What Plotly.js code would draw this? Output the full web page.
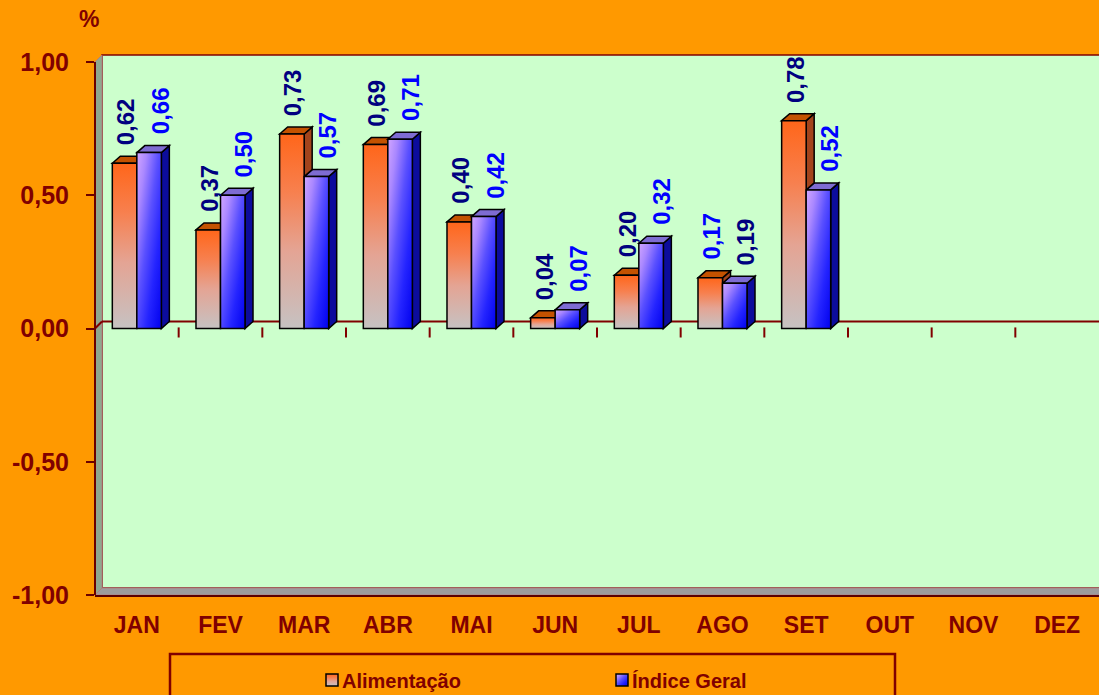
<!DOCTYPE html>
<html>
<head>
<meta charset="utf-8">
<script src="https://cdn.plot.ly/plotly-3.0.1.min.js"></script>
<style>
html,body{margin:0;padding:0;background:#FF9900;overflow:hidden;}
#chart{width:1099px;height:695px;}
</style>
</head>
<body>
<svg width="0" height="0" style="position:absolute;left:0;top:0">
  <defs>
    <linearGradient id="gradAlim" x1="0" y1="0" x2="0" y2="1">
      <stop offset="0" stop-color="#FF661A"/>
      <stop offset="0.3" stop-color="#F7804F"/>
      <stop offset="0.6" stop-color="#E4A494"/>
      <stop offset="1" stop-color="#C6C2C2"/>
    </linearGradient>
    <linearGradient id="gradIndice" x1="0" y1="0" x2="1" y2="1">
      <stop offset="0" stop-color="#D2A6FF"/>
      <stop offset="0.2" stop-color="#AA88FF"/>
      <stop offset="0.45" stop-color="#5A50FF"/>
      <stop offset="0.7" stop-color="#2424FF"/>
      <stop offset="1" stop-color="#0000EE"/>
    </linearGradient>
  </defs>
</svg>
<div id="chart"></div>
<script>
// ---------- data ----------
const months = ['JAN','FEV','MAR','ABR','MAI','JUN','JUL','AGO','SET','OUT','NOV','DEZ'];
const alimentacao = [0.62, 0.37, 0.73, 0.69, 0.40, 0.04, 0.20, 0.19, 0.78, null, null, null];
const indiceGeral = [0.66, 0.50, 0.57, 0.71, 0.42, 0.07, 0.32, 0.17, 0.52, null, null, null];
const seriesNames = ['Alimentação', 'Índice Geral'];
const yTickVals = [-1, -0.5, 0, 0.5, 1];
const yTickText = ['-1,00', '-0,50', '0,00', '0,50', '1,00'];
const unitLabel = '%';

// ---------- geometry / style ----------
const W = 1099, H = 695;
const ML = 95, MR = 0, MT = 54, MB = 100;
const plotW = W - ML - MR, plotH = H - MT - MB;
const kx = plotW / months.length;      // px per category
const ky = 533 / 2;                    // px per y unit
const yMax = -1 + plotH / ky;
const wallDX = 7 / kx, wallDY = 7 / ky;
const barDX = 8 / kx, barDY = 7 / ky;
const bargap = 0.414;
const bw = (1 - bargap) / 2;

const DARKRED = '#800000';
const FONT = 'Liberation Sans, Arial, sans-serif';
const fmt = v => v.toFixed(2).replace('.', ',');
const poly = pts => 'M' + pts.map(p => p[0] + ',' + p[1]).join('L') + 'Z';

const X0 = -0.5, X1 = months.length - 0.5;
const shapes = [];
// back wall
shapes.push({type:'rect', xref:'x', yref:'y', x0:X0 + wallDX, x1:X1 + wallDX, y0:-1 + wallDY, y1:1 + wallDY,
  fillcolor:'#CCFFCC', line:{color:DARKRED, width:1.5}, layer:'below'});
// left wall
shapes.push({type:'path', xref:'x', yref:'y', layer:'below',
  path: poly([[X0,-1],[X0 + wallDX,-1 + wallDY],[X0 + wallDX,1 + wallDY],[X0,1]]),
  fillcolor:'#8FA88F', line:{color:'#B08080', width:1}});
// floor
shapes.push({type:'path', xref:'x', yref:'y', layer:'below',
  path: poly([[X0,-1],[X1,-1],[X1 + wallDX,-1 + wallDY],[X0 + wallDX,-1 + wallDY]]),
  fillcolor:'#9C9C9C', line:{color:'#B08080', width:1}});
// zero line on back wall + diagonal on side wall
shapes.push({type:'line', xref:'x', yref:'y', layer:'below', x0:X0 + wallDX, x1:X1 + wallDX, y0:wallDY, y1:wallDY,
  line:{color:DARKRED, width:2}});
shapes.push({type:'line', xref:'x', yref:'y', layer:'below', x0:X0, x1:X0 + wallDX, y0:0, y1:wallDY,
  line:{color:DARKRED, width:2}});
// category boundary ticks at the zero level
for (let i = 1; i < months.length; i++) {
  shapes.push({type:'line', xref:'x', yref:'y', layer:'below', x0:i - 0.5, x1:i - 0.5, y0:0.004, y1:-9 / ky,
    line:{color:DARKRED, width:2}});
}
// 3D faces of bars
const OUT = {color:'#000000', width:1.5};
months.forEach((m, i) => {
  const a = alimentacao[i], b = indiceGeral[i];
  if (a == null || b == null) return;
  const ol = i - bw, mid = i, br = i + bw;
  const orangeTop = {type:'path', xref:'x', yref:'y', layer:'below', fillcolor:'#C45200', line:OUT,
    path: poly([[ol,a],[ol + barDX,a + barDY],[mid + barDX,a + barDY],[mid,a]])};
  const blueTop = {type:'path', xref:'x', yref:'y', layer:'below', fillcolor:'#7E6CD2', line:OUT,
    path: poly([[mid,b],[mid + barDX,b + barDY],[br + barDX,b + barDY],[br,b]])};
  const blueSide = {type:'path', xref:'x', yref:'y', layer:'below', fillcolor:'#0C0C9C', line:OUT,
    path: poly([[br,0],[br,b],[br + barDX,b + barDY],[br + barDX,barDY]])};
  if (a > b) {
    const orangeSide = {type:'path', xref:'x', yref:'y', layer:'below', fillcolor:'#A3441C', line:OUT,
      path: poly([[mid,b],[mid,a],[mid + barDX,a + barDY],[mid + barDX,b + barDY]])};
    shapes.push(blueSide, blueTop, orangeSide, orangeTop);
  } else {
    shapes.push(orangeTop, blueSide, blueTop);
  }
});
// y axis line (front left edge)
shapes.push({type:'line', xref:'paper', yref:'y', x0:0, x1:0, y0:-1, y1:1, line:{color:'#6A0000', width:2}, layer:'above'});
// legend frame
const px2fx = px => (px - ML) / plotW;
const py2fy = py => (H - MB - py) / plotH;
shapes.push({type:'rect', xref:'paper', yref:'paper', x0:px2fx(170), x1:px2fx(895), y0:py2fy(654), y1:py2fy(710),
  line:{color:DARKRED, width:2.5}, fillcolor:'rgba(0,0,0,0)', layer:'above'});

// data labels
const annotations = [];
months.forEach((m, i) => {
  const a = alimentacao[i], b = indiceGeral[i];
  if (a == null || b == null) return;
  const slotA = {x: i - bw / 2, y: a, xs: 1};
  const slotB = {x: i + bw / 2, y: b, xs: 11};
  let sa = slotA, sb = slotB;
  if (m === 'AGO') { sa = slotB; sb = slotA; }   // labels swapped in the original
  annotations.push({xref:'x', yref:'y', x:sa.x, y:sa.y, xshift:sa.xs, yshift:16, text:fmt(a), textangle:-90,
    showarrow:false, xanchor:'center', yanchor:'bottom', font:{family:FONT, size:24, color:'#000080', weight:'bold'}});
  annotations.push({xref:'x', yref:'y', x:sb.x, y:sb.y, xshift:sb.xs, yshift:16, text:fmt(b), textangle:-90,
    showarrow:false, xanchor:'center', yanchor:'bottom', font:{family:FONT, size:24, color:'#0000FF', weight:'bold'}});
});
annotations.push({xref:'paper', yref:'paper', x:px2fx(88.5), y:py2fy(19), text:unitLabel, showarrow:false,
  xanchor:'center', yanchor:'middle', font:{family:FONT, size:23, color:DARKRED, weight:'bold'}});

const traces = [
  {type:'bar', name:seriesNames[0], x:months, y:alimentacao,
   marker:{color:'#F88050', line:{color:'#000000', width:1.5}}, hoverinfo:'skip'},
  {type:'bar', name:seriesNames[1], x:months, y:indiceGeral,
   marker:{color:'#6A5AFF', line:{color:'#000000', width:1.5}}, hoverinfo:'skip'}
];

const layout = {
  width: W, height: H,
  margin: {l:ML, r:MR, t:MT, b:MB, pad:0, autoexpand:false},
  paper_bgcolor: '#FF9900',
  plot_bgcolor: 'rgba(0,0,0,0)',
  barmode: 'group', bargap: bargap, bargroupgap: 0,
  hovermode: false,
  xaxis: {type:'category', range:[X0, X1], showgrid:false, zeroline:false, automargin:false,
    showline:true, linecolor:'#5A0000', linewidth:2, ticks:'',
    ticklabelstandoff: 8,
    tickfont:{family:FONT, size:23, color:DARKRED, weight:'bold'}},
  yaxis: {range:[-1, yMax], tickmode:'array', tickvals:yTickVals, ticktext:yTickText, automargin:false,
    showgrid:false, zeroline:false, showline:false,
    ticks:'outside', ticklen:8, tickwidth:2, tickcolor:'#6A0000',
    ticklabelstandoff: 12,
    tickfont:{family:FONT, size:25, color:DARKRED, weight:'bold'}},
  showlegend: true,
  legend: {orientation:'h', xref:'paper', x:px2fx(302), xanchor:'left',
    yref:'container', y:(H - 680) / H, yanchor:'middle',
    bgcolor:'rgba(0,0,0,0)', borderwidth:0, entrywidth:245,
    font:{family:FONT, size:20, color:DARKRED, weight:'bold'}},
  shapes: shapes,
  annotations: annotations
};

function applyGradients() {
  const gd = document.getElementById('chart');
  const grads = ['url(#gradAlim)', 'url(#gradIndice)'];
  gd.querySelectorAll('.barlayer .trace.bars').forEach((g, i) => {
    g.querySelectorAll('path').forEach(p => { p.style.fill = grads[i % 2]; });
  });
  gd.querySelectorAll('.legend .traces').forEach((g, i) => {
    g.querySelectorAll('.legendpoints path').forEach(p => { p.style.fill = grads[i % 2]; });
    const lp = g.querySelector('.legendpoints');
    if (lp) lp.setAttribute('transform', 'translate(10,0)');
  });
}

Plotly.newPlot('chart', traces, layout, {staticPlot:true, displayModeBar:false}).then(applyGradients);
</script>
</body>
</html>
